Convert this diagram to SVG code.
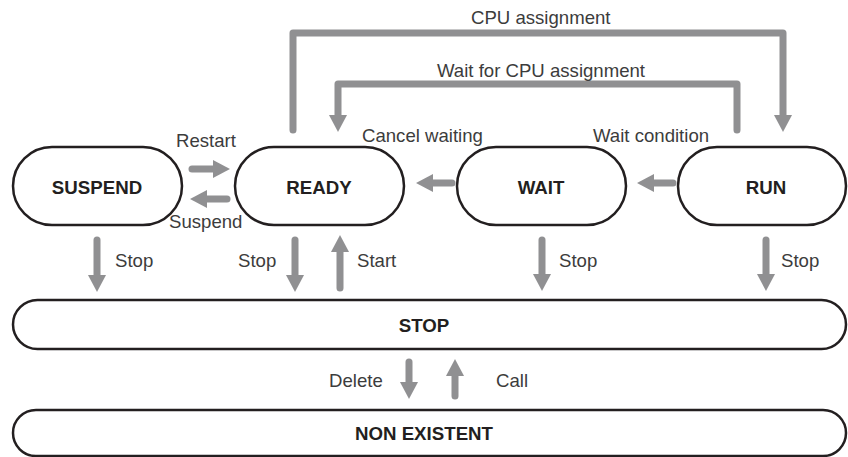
<svg xmlns="http://www.w3.org/2000/svg" width="848" height="457" viewBox="0 0 848 457">
<style>
.node{fill:#fff;stroke:#231f20;stroke-width:2.5}
.nl{font-family:"Liberation Sans",Arial,sans-serif;font-size:18.7px;font-weight:bold;fill:#231f20;text-anchor:middle}
.lb{font-family:"Liberation Sans",Arial,sans-serif;font-size:18.6px;fill:#3c3c3c}
.ar{fill:none;stroke:#909092;stroke-width:7;stroke-linecap:round;stroke-linejoin:round;marker-end:url(#ah)}
</style>
<defs>
<marker id="ah" viewBox="0 0 18 18" refX="0" refY="9" markerWidth="18" markerHeight="18" markerUnits="userSpaceOnUse" orient="auto">
<path d="M0,0 L17,9 L0,18 z" fill="#909092"/>
</marker>
</defs>
<rect width="848" height="457" fill="#fff"/>
<g id="connectors">
<path class="ar" d="M293,130 V33 H783 V115"/>
<path class="ar" d="M737,130 V84 H338 V115"/>
<path class="ar" d="M192,169 H213"/>
<path class="ar" d="M227,199 H207"/>
<path class="ar" d="M452,183 H433"/>
<path class="ar" d="M673,183 H654"/>
<path class="ar" d="M97,240 V275"/>
<path class="ar" d="M295,240 V275"/>
<path class="ar" d="M340,288 V252"/>
<path class="ar" d="M542,240 V274"/>
<path class="ar" d="M766,240 V274"/>
<path class="ar" d="M409,362 V382"/>
<path class="ar" d="M455,396 V376"/>
<text class="lb" x="471" y="24">CPU assignment</text>
<text class="lb" x="437" y="77">Wait for CPU assignment</text>
<text class="lb" x="362" y="142">Cancel waiting</text>
<text class="lb" x="593" y="142">Wait condition</text>
<text class="lb" x="176" y="147">Restart</text>
<text class="lb" x="169" y="228">Suspend</text>
<text class="lb" x="115" y="267">Stop</text>
<text class="lb" x="238" y="267">Stop</text>
<text class="lb" x="357" y="267">Start</text>
<text class="lb" x="559" y="267">Stop</text>
<text class="lb" x="781" y="267">Stop</text>
<text class="lb" x="329" y="387">Delete</text>
<text class="lb" x="496" y="387">Call</text>
</g>
<g id="suspend"><rect class="node" x="13" y="147" width="169" height="78" rx="39"/><text class="nl" x="97" y="194">SUSPEND</text></g>
<g id="ready"><rect class="node" x="235" y="147" width="169" height="78" rx="39"/><text class="nl" x="319" y="194">READY</text></g>
<g id="wait"><rect class="node" x="457" y="147" width="169" height="78" rx="39"/><text class="nl" x="541" y="194">WAIT</text></g>
<g id="run"><rect class="node" x="678" y="147" width="168" height="78" rx="39"/><text class="nl" x="766" y="194">RUN</text></g>
<g id="stop"><rect class="node" x="13" y="300" width="833" height="49" rx="24.5"/><text class="nl" x="424" y="332">STOP</text></g>
<g id="nonexistent"><rect class="node" x="13" y="410" width="833" height="46" rx="23"/><text class="nl" x="424" y="440">NON EXISTENT</text></g>
</svg>
